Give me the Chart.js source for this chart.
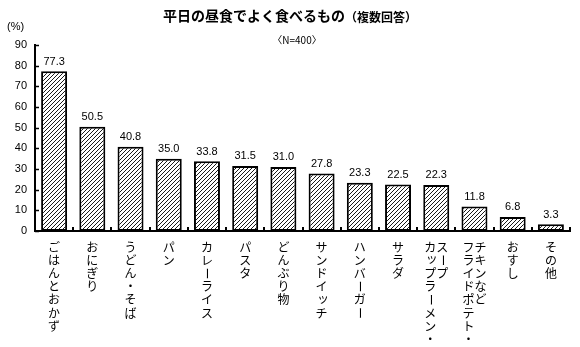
<!DOCTYPE html>
<html>
<head>
<meta charset="utf-8">
<script src="https://cdn.jsdelivr.net/npm/chart.js@4"></script>
<style>
  html, body { margin: 0; padding: 0; background: #ffffff; }
  #wrap { width: 580px; height: 347px; }
</style>
</head>
<body>
<div id="wrap"><canvas id="c" width="580" height="347"></canvas></div>
<script>
// Lunch items eaten often on weekdays (multiple answers, N=400)
// Each category is a list of vertical text columns, read left to right.
const categories = [
  ["ごはんとおかず"],
  ["おにぎり"],
  ["うどん・そば"],
  ["パン"],
  ["カレーライス"],
  ["パスタ"],
  ["どんぶり物"],
  ["サンドイッチ"],
  ["ハンバーガー"],
  ["サラダ"],
  ["カップラーメン・", "スープ"],
  ["フライドポテト・", "チキンなど"],
  ["おすし"],
  ["その他"]
];
const percents = [77.3, 50.5, 40.8, 35.0, 33.8, 31.5, 31.0, 27.8, 23.3, 22.5, 22.3, 11.8, 6.8, 3.3];
const yTicks = [0, 10, 20, 30, 40, 50, 60, 70, 80, 90];

const titleMain = "平日の昼食でよく食べるもの";
const titleSub = "（複数回答）";
const sampleNote = "〈N=400〉";
const unitLabel = "(%)";

const JP = '"Noto Sans CJK JP", "Noto Sans", sans-serif';
const NUM = '"Liberation Sans", Arial, sans-serif';

// diagonal hatch fill for the bars
function hatch() {
  const s = 4;
  const p = document.createElement('canvas');
  p.width = s; p.height = s;
  const g = p.getContext('2d');
  g.fillStyle = '#ffffff';
  g.fillRect(0, 0, s, s);
  g.strokeStyle = '#1a1a1a';
  g.lineWidth = 1;
  g.beginPath();
  g.moveTo(0, s); g.lineTo(s, 0);
  g.moveTo(-1, 1); g.lineTo(1, -1);
  g.moveTo(s - 1, s + 1); g.lineTo(s + 1, s - 1);
  g.stroke();
  return g.createPattern(p, 'repeat');
}

const ctx0 = document.getElementById('c').getContext('2d');

// titles, value labels, inward tick marks and vertical category labels
const decorations = {
  id: 'decorations',
  afterDraw(chart) {
    const ctx = chart.ctx;
    const xs = chart.scales.x;
    const ys = chart.scales.y;
    const area = chart.chartArea;
    ctx.save();

    // title: main text plus smaller note, centred on the page as one line
    ctx.textBaseline = 'middle';
    ctx.fillStyle = '#000';
    const fMain = 'bold 14px ' + JP;
    const fSub = 'bold 12px ' + JP;
    ctx.font = fMain;
    const wMain = ctx.measureText(titleMain).width;
    ctx.font = fSub;
    const wSub = ctx.measureText(titleSub).width;
    const tx = 290 - (wMain + wSub) / 2;
    ctx.textAlign = 'left';
    ctx.font = fMain;
    ctx.fillText(titleMain, tx, 16);
    ctx.font = fSub;
    ctx.fillText(titleSub, tx + wMain, 17);

    ctx.textAlign = 'center';
    ctx.font = '10px ' + JP;
    ctx.fillText(sampleNote, 297, 40);

    ctx.textAlign = 'left';
    ctx.font = '11px ' + NUM;
    ctx.fillText(unitLabel, 7, 27);

    // value labels above bars
    const meta = chart.getDatasetMeta(0);
    ctx.font = '11px ' + NUM;
    ctx.textAlign = 'center';
    ctx.textBaseline = 'bottom';
    meta.data.forEach((bar, i) => {
      ctx.fillText(percents[i].toFixed(1), bar.x, bar.y - 4);
    });

    // inward tick marks on the value axis
    ctx.strokeStyle = '#000';
    ctx.lineWidth = 1.5;
    yTicks.forEach(v => {
      const y = Math.round(ys.getPixelForValue(v)) + 0.5;
      ctx.beginPath();
      ctx.moveTo(area.left, y);
      ctx.lineTo(area.left + 4, y);
      ctx.stroke();
    });
    // upward tick marks at category boundaries
    const n = categories.length;
    const step = (area.right - area.left) / n;
    ctx.lineWidth = 2;
    for (let i = 1; i <= n; i++) {
      const x = Math.round(area.left + step * i);
      ctx.beginPath();
      ctx.moveTo(x, area.bottom);
      ctx.lineTo(x, area.bottom - 4);
      ctx.stroke();
    }

    // vertical category labels
    const lineStep = 13.2;
    const colGap = 12;
    const small = 'ぁぃぅぇぉっゃゅょァィゥェォッャュョ';
    ctx.font = '12px ' + JP;
    ctx.textAlign = 'center';
    ctx.textBaseline = 'middle';
    categories.forEach((cols, i) => {
      const cx = xs.getPixelForValue(i);
      const x0 = cx - (cols.length - 1) * colGap / 2;
      cols.forEach((col, k) => {
        const x = x0 + k * colGap;
        [...col].forEach((ch, j) => {
          const y = area.bottom + 16 + j * lineStep;
          if (ch === 'ー') {
            ctx.save();
            ctx.translate(x, y);
            ctx.rotate(Math.PI / 2);
            ctx.fillText(ch, 0, 0);
            ctx.restore();
          } else if (small.includes(ch)) {
            ctx.fillText(ch, x + 1.5, y - 1.5);
          } else {
            ctx.fillText(ch, x, y);
          }
        });
      });
    });
    ctx.restore();
  }
};

new Chart(ctx0, {
  type: 'bar',
  data: {
    labels: categories.map(c => c.join('')),
    datasets: [{
      data: percents,
      backgroundColor: hatch(),
      borderColor: '#000000',
      borderWidth: 2,
      borderSkipped: false,
      barPercentage: 0.68,
      categoryPercentage: 1.0
    }]
  },
  options: {
    responsive: false,
    animation: false,
    events: [],
    layout: { padding: { left: 0, right: 10, top: 45, bottom: 116 } },
    plugins: { legend: { display: false }, title: { display: false }, tooltip: { enabled: false } },
    scales: {
      x: {
        offset: true,
        ticks: { display: false },
        grid: { display: false, drawTicks: false },
        border: { display: true, color: '#000', width: 2 },
        afterFit(scale) { scale.height = 0; }
      },
      y: {
        min: 0,
        max: 90,
        afterBuildTicks(scale) { scale.ticks = yTicks.map(v => ({ value: v })); },
        ticks: { color: '#000', font: { family: NUM, size: 11 }, padding: 8 },
        grid: { display: false, drawTicks: false },
        border: { display: true, color: '#000', width: 2 },
        afterFit(scale) { scale.width = 35; }
      }
    }
  },
  plugins: [decorations]
});
</script>
</body>
</html>
